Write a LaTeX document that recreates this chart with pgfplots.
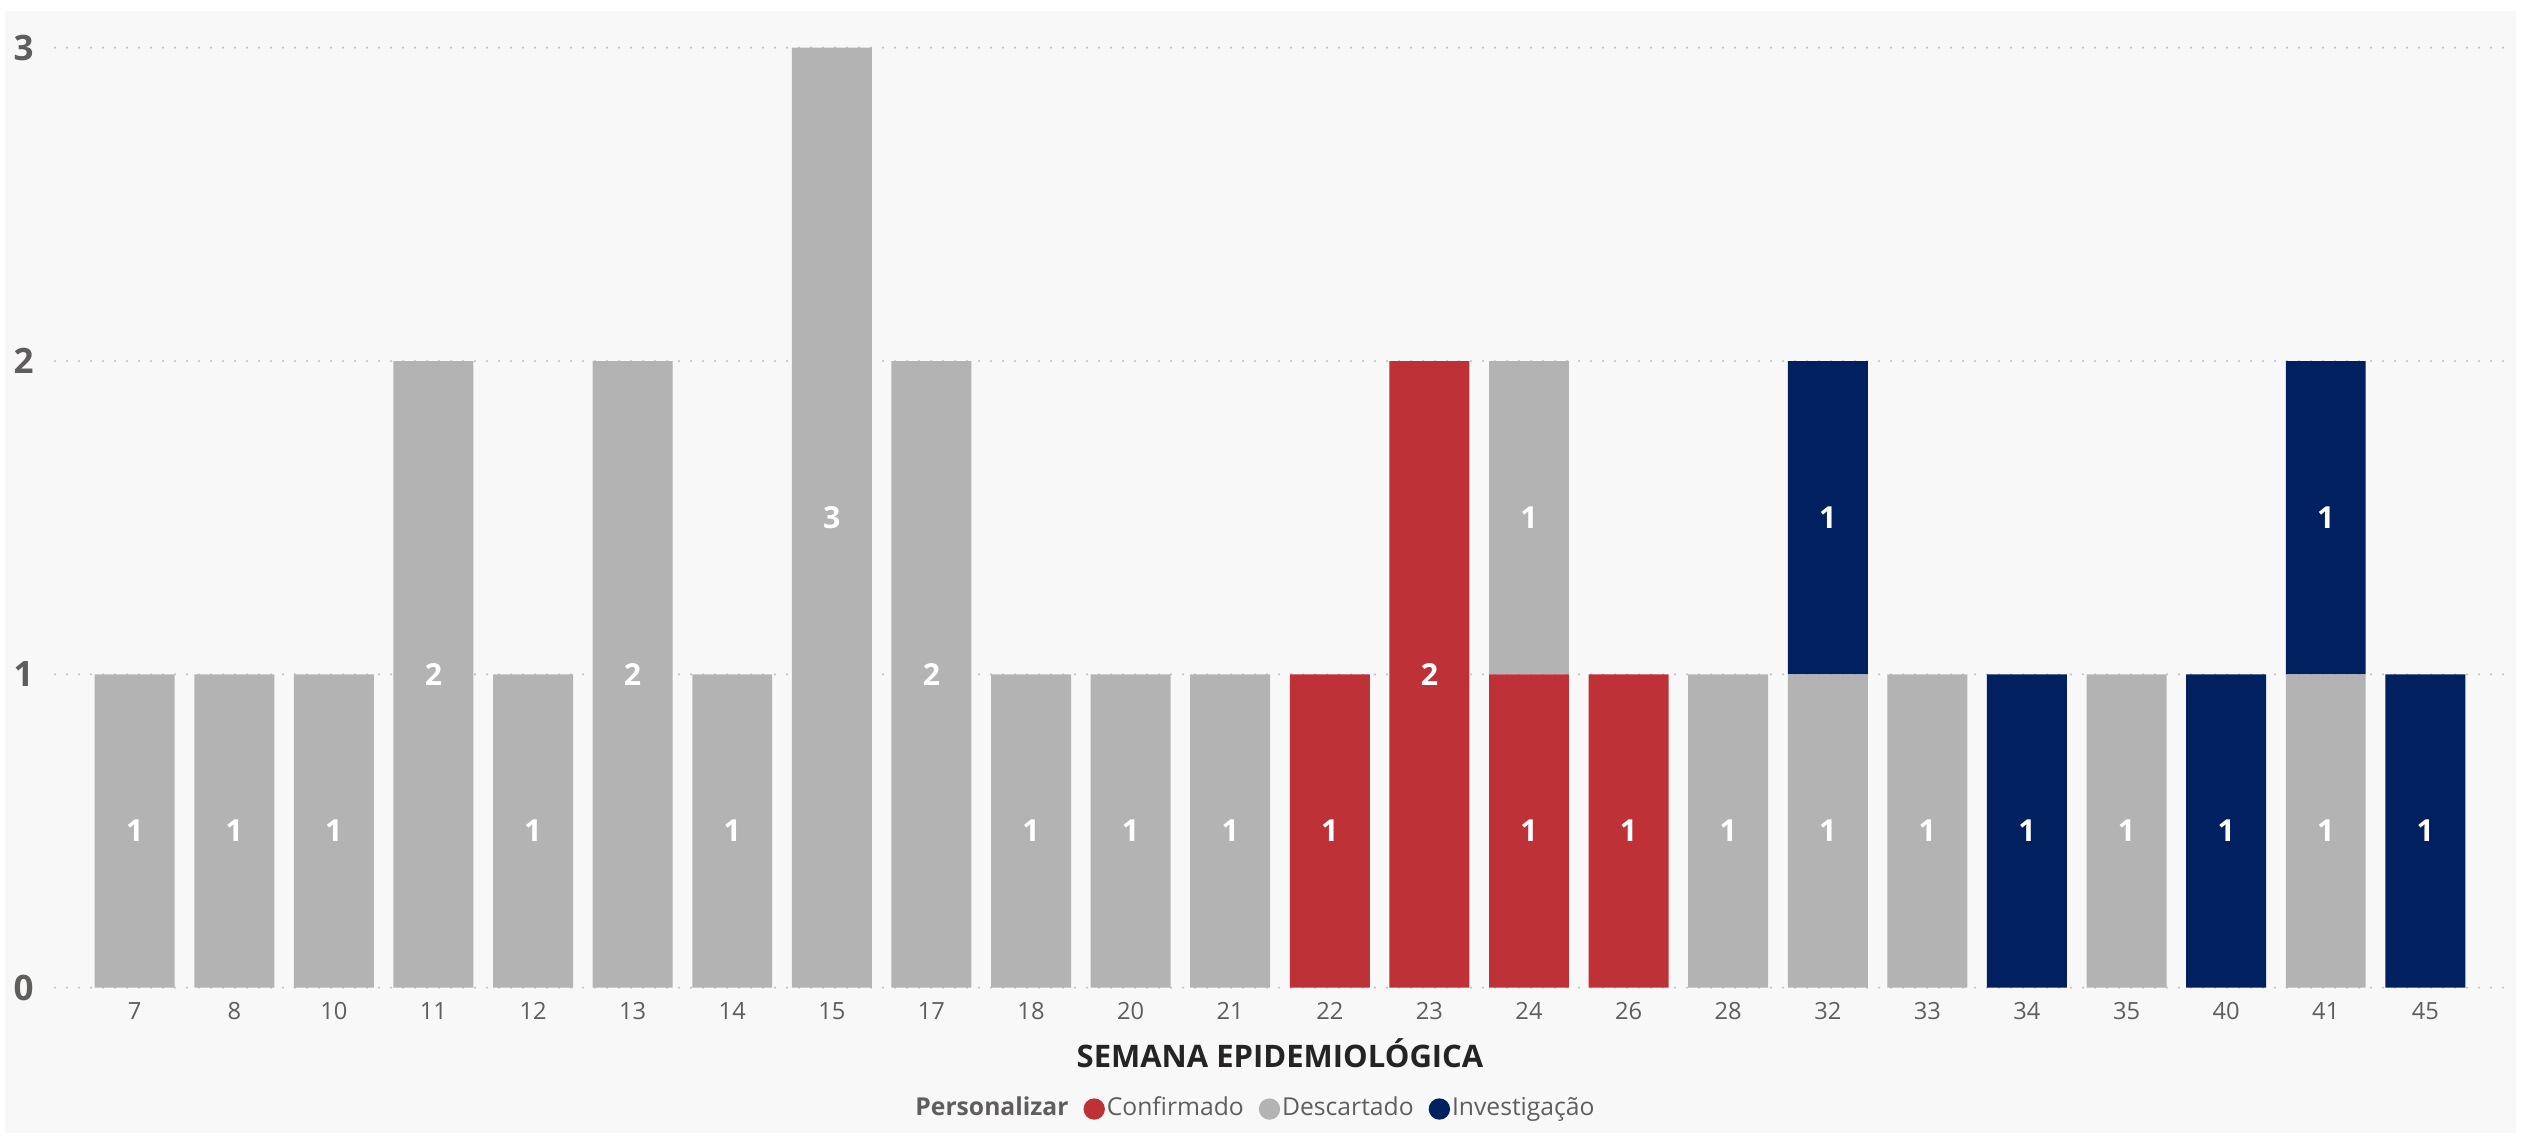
\documentclass[border=0pt]{standalone}
\usepackage{fontspec}
\setmainfont{Open Sans}
\usepackage{pgfplots}
\usepackage{pgfplotstable}
\pgfplotsset{compat=1.18}
\definecolor{cRed}{RGB}{190,50,55}
\definecolor{cGray}{RGB}{179,179,179}
\definecolor{cNavy}{RGB}{0,32,96}
\definecolor{panel}{RGB}{248,248,248}
\definecolor{txt}{RGB}{96,94,92}
\definecolor{ttl}{RGB}{37,36,35}
\definecolor{gridc}{RGB}{196,196,196}

\pgfplotstableread{
idx wk conf desc inv
0  7  0 1 0
1  8  0 1 0
2  10 0 1 0
3  11 0 2 0
4  12 0 1 0
5  13 0 2 0
6  14 0 1 0
7  15 0 3 0
8  17 0 2 0
9  18 0 1 0
10 20 0 1 0
11 21 0 1 0
12 22 1 0 0
13 23 2 0 0
14 24 1 1 0
15 26 1 0 0
16 28 0 1 0
17 32 0 1 1
18 33 0 1 0
19 34 0 0 1
20 35 0 1 0
21 40 0 0 1
22 41 0 1 1
23 45 0 0 1
}\data

\pgfplotsset{
  common/.style={
    at={(16.5bp,45.09bp)}, anchor=south west,
    scale only axis, width=735bp, height=282bp,
    xmin=-0.8, xmax=23.8, ymin=0, ymax=3,
  }
}

\begin{document}
\begin{tikzpicture}
\useasboundingbox (0,0) rectangle (757.5bp,341.4bp);
\fill[white] (0,0) rectangle (757.5bp,341.4bp);
\fill[panel] (1.5bp,1.5bp) rectangle (754.8bp,338.1bp);
\begin{axis}[
  common,
  ybar stacked, bar width=0.803,
  xtick={0,...,23},
  xticklabels={7,8,10,11,12,13,14,15,17,18,20,21,22,23,24,26,28,32,33,34,35,40,41,45},
  ytick={0,1,2,3},
  yticklabels={0,1,2,3},
  axis line style={draw=none},
  major tick length=0,
  ymajorgrids,
  major grid style={draw=gridc, line width=0.75bp, dash pattern=on 0bp off 3.6bp, line cap=round},
  xticklabel style={anchor=center, inner sep=0pt, yshift=-7.1bp, text=txt, font=\fontsize{7.1bp}{8.5bp}\selectfont},
  yticklabel style={anchor=east, inner sep=0pt, xshift=-6.2bp, text=txt, font=\bfseries\fontsize{10.5bp}{12bp}\selectfont},
  xlabel={SEMANA EPIDEMIOLÓGICA},
  xlabel style={at={(axis description cs:0.5,0)}, anchor=base, yshift=-23.8bp, inner sep=0pt, text=ttl, font=\bfseries\fontsize{9.3bp}{11bp}\selectfont},
]
\addplot[fill=cRed, draw=none] table[x=idx, y=conf]{\data};
\addplot[fill=cGray, draw=none] table[x=idx, y=desc]{\data};
\addplot[fill=cNavy, draw=none] table[x=idx, y=inv]{\data};
\end{axis}
\begin{axis}[
  common,
  hide axis,
  legend columns=-1,
  legend style={at={(axis description cs:0.5,0)}, anchor=center, yshift=-36.4bp, xshift=-7.5bp,
    draw=none, fill=none, inner sep=0pt, text=txt,
    font=\fontsize{7.4bp}{8.8bp}\selectfont,
    nodes={inner sep=0.6bp},
    /tikz/every even column/.append style={column sep=3.9bp}},
]
\addplot[forget plot, draw=none, mark=none, nodes near coords, point meta=explicit symbolic,
  every node near coord/.style={anchor=center, text=white, inner sep=0pt, font=\bfseries\fontsize{9.1bp}{10bp}\selectfont}]
  coordinates {
  (0,0.5)[1] (1,0.5)[1] (2,0.5)[1] (3,1)[2] (4,0.5)[1] (5,1)[2] (6,0.5)[1] (7,1.5)[3]
  (8,1)[2] (9,0.5)[1] (10,0.5)[1] (11,0.5)[1] (12,0.5)[1] (13,1)[2] (14,0.5)[1] (14,1.5)[1]
  (15,0.5)[1] (16,0.5)[1] (17,0.5)[1] (17,1.5)[1] (18,0.5)[1] (19,0.5)[1] (20,0.5)[1]
  (21,0.5)[1] (22,0.5)[1] (22,1.5)[1] (23,0.5)[1]
  };
\addlegendimage{empty legend}
\addlegendentry{\textbf{Personalizar}}
\addlegendimage{legend image code/.code={\fill[cRed] (3bp,0) circle (3bp);}}
\addlegendentry{Confirmado}
\addlegendimage{legend image code/.code={\fill[cGray] (3bp,0) circle (3bp);}}
\addlegendentry{Descartado}
\addlegendimage{legend image code/.code={\fill[cNavy] (3bp,0) circle (3bp);}}
\addlegendentry{Investigação}
\end{axis}
\end{tikzpicture}
\end{document}
